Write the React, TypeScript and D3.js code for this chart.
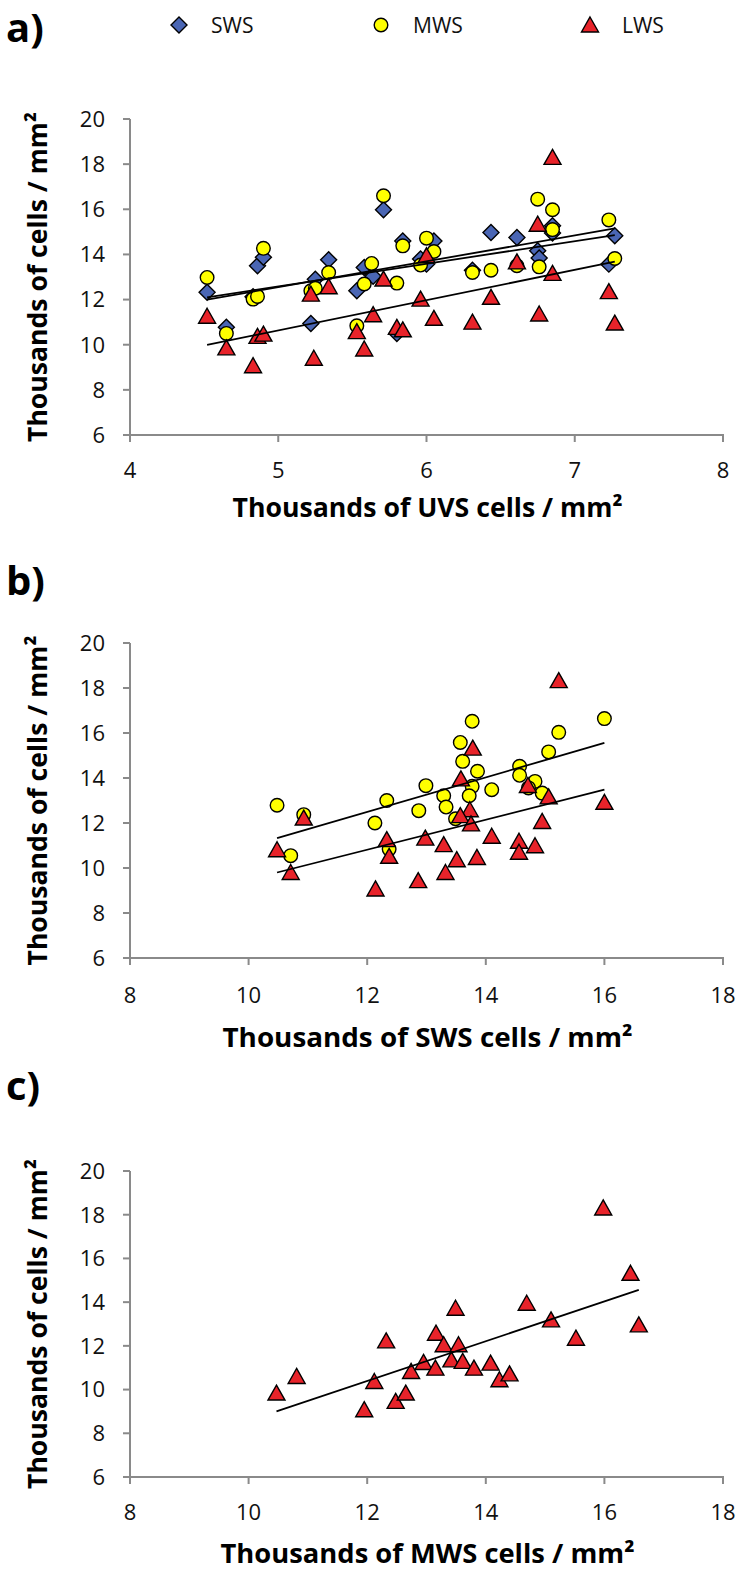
import React from "react";
import * as d3 from "d3";

// ---------- data (thousands of cells / mm²) ----------
// Panel a: x = UVS density
const aSWS: [number, number][] = [
  [4.52, 12.32], [4.65, 10.77], [4.83, 12.13], [4.86, 13.5], [4.9, 13.87], [5.22, 10.94],
  [5.25, 12.9], [5.34, 13.76], [5.53, 12.39], [5.58, 13.42], [5.64, 13.03], [5.71, 15.98],
  [5.8, 10.5], [5.84, 14.6], [5.96, 13.8], [6.0, 13.57], [6.05, 14.6], [6.31, 13.3],
  [6.435, 14.97], [6.61, 14.75], [6.75, 14.16], [6.76, 13.84], [6.85, 15.27], [6.85, 14.95],
  [7.23, 13.57], [7.27, 14.83],
];
const aMWS: [number, number][] = [
  [4.52, 12.98], [4.65, 10.5], [4.83, 12.02], [4.86, 12.14], [4.9, 14.27], [5.22, 12.39],
  [5.25, 12.5], [5.34, 13.2], [5.53, 10.84], [5.58, 12.69], [5.63, 13.6], [5.71, 16.6],
  [5.8, 12.73], [5.84, 14.38], [5.96, 13.53], [6.0, 14.72], [6.05, 14.13], [6.31, 13.2],
  [6.435, 13.3], [6.61, 13.5], [6.75, 16.45], [6.76, 13.45], [6.85, 15.98], [6.85, 15.1],
  [7.23, 15.53], [7.27, 13.82],
];
const aLWS: [number, number][] = [
  [4.52, 11.26], [4.65, 9.86], [4.83, 9.07], [4.86, 10.37], [4.9, 10.47], [5.22, 12.24],
  [5.24, 9.4], [5.34, 12.57], [5.53, 10.58], [5.58, 9.81], [5.64, 11.33], [5.71, 12.91],
  [5.8, 10.77], [5.84, 10.66], [5.96, 12.02], [6.0, 13.94], [6.05, 11.17], [6.31, 11.0],
  [6.435, 12.1], [6.61, 13.67], [6.75, 15.34], [6.76, 11.36], [6.85, 18.3], [6.85, 13.16],
  [7.23, 12.35], [7.27, 10.96],
];
// trend lines: y at [min x, max x]
const aTrendSWS = [12.1, 14.86];
const aTrendMWS = [12.0, 15.15];
const aTrendLWS = [9.99, 13.68];

// Panel b: x = SWS density
const bMWS: [number, number][] = [
  [10.48, 12.79], [10.93, 12.37], [10.71, 10.55], [12.33, 13.0], [12.13, 12.0], [12.99, 13.66],
  [12.87, 12.55], [12.37, 10.84], [13.29, 13.21], [13.33, 12.71], [13.49, 12.19], [13.77, 16.52],
  [13.57, 15.58], [13.61, 14.74], [13.86, 14.3], [13.77, 13.63], [13.72, 13.21], [14.1, 13.48],
  [14.57, 14.52], [14.57, 14.12], [14.83, 13.85], [14.72, 13.56], [14.95, 13.33], [15.06, 15.16],
  [15.23, 16.03], [16.0, 16.64],
];
const bLWS: [number, number][] = [
  [10.48, 10.81], [10.93, 12.22], [10.71, 9.8], [12.33, 11.26], [12.37, 10.52], [12.98, 11.33],
  [12.14, 9.07], [12.86, 9.44], [13.32, 9.8], [15.23, 18.33], [13.78, 15.33], [13.58, 13.96],
  [14.71, 13.67], [15.06, 13.16], [16.0, 12.92], [13.73, 12.59], [13.57, 12.33], [13.75, 11.96],
  [14.95, 12.07], [14.1, 11.41], [14.56, 11.19], [14.83, 10.99], [14.56, 10.7], [13.29, 11.04],
  [13.51, 10.37], [13.85, 10.47],
];
const bTrendMWS = [11.33, 15.56];
const bTrendLWS = [9.8, 13.48];

// Panel c: x = MWS density
const cLWS: [number, number][] = [
  [10.47, 9.84], [10.81, 10.6], [12.32, 12.23], [11.95, 9.08], [12.12, 10.37], [12.48, 9.46],
  [12.65, 9.84], [12.74, 10.83], [12.95, 11.24], [13.16, 12.58], [13.15, 10.98], [13.29, 12.05],
  [13.54, 12.05], [13.42, 11.36], [13.61, 11.29], [13.49, 13.72], [13.8, 10.98], [14.08, 11.21],
  [14.23, 10.45], [14.4, 10.72], [14.69, 13.95], [15.1, 13.19], [15.52, 12.35], [15.98, 18.31],
  [16.44, 15.32], [16.58, 12.96],
];
const cTrendLWS = [9.0, 14.56];

const yTicks = [6, 8, 10, 12, 14, 16, 18, 20];
const xTicksA = [4, 5, 6, 7, 8];
const xTicksBC = [8, 10, 12, 14, 16, 18];
const legendNames = ["SWS", "MWS", "LWS"];

// ---------- styling ----------
const COL = { SWS: "#4a66b4", MWS: "#ffff00", LWS: "#e8232a" };
const FONT = "'Open Sans', 'Liberation Sans', sans-serif";
const AXIS = "#8a8a8a";
const X0 = 130;
const X1 = 723;

type Shape = "diamond" | "circle" | "triangle";

function Marker({ shape, x, y }: { shape: Shape; x: number; y: number }) {
  if (shape === "circle")
    return <circle cx={x} cy={y} r={6.8} fill={COL.MWS} stroke="#000" strokeWidth={1.4} />;
  if (shape === "diamond")
    return (
      <path
        d={`M${x},${y - 8}L${x + 8},${y}L${x},${y + 8}L${x - 8},${y}Z`}
        fill={COL.SWS}
        stroke="#000"
        strokeWidth={1.4}
      />
    );
  return (
    <path
      d={`M${x},${y - 8}L${x + 8.5},${y + 7}L${x - 8.5},${y + 7}Z`}
      fill={COL.LWS}
      stroke="#000"
      strokeWidth={1.4}
      strokeLinejoin="miter"
    />
  );
}

type Series = { data: [number, number][]; trend: number[]; shape: Shape };

function Panel({
  label, labelY, top, bottom, xDomain, xTicks, xTitle, xTitleLen, tickBase, titleBase, series,
}: {
  label: string; labelY: number; top: number; bottom: number; xDomain: [number, number];
  xTicks: number[]; xTitle: string; xTitleLen: number; tickBase: number; titleBase: number;
  series: Series[];
}) {
  const x = d3.scaleLinear().domain(xDomain).range([X0, X1]);
  const y = d3.scaleLinear().domain([6, 20]).range([bottom, top]);
  const midY = (top + bottom) / 2;
  return (
    <g>
      <text x={6} y={labelY} fontFamily={FONT} fontWeight={700} fontSize={40} fill="#000">
        {label}
      </text>
      {/* y axis */}
      <line x1={X0} x2={X0} y1={top} y2={bottom} stroke={AXIS} strokeWidth={2} />
      {yTicks.map((t) => (
        <g key={"y" + t}>
          <line x1={X0 - 7} x2={X0} y1={y(t)} y2={y(t)} stroke={AXIS} strokeWidth={2} />
          <text x={105} y={y(t)} dy="0.36em" textAnchor="end" fontFamily={FONT} fontSize={22} fill="#111">
            {t}
          </text>
        </g>
      ))}
      {/* x axis */}
      <line x1={X0 - 7} x2={X1 + 1} y1={bottom} y2={bottom} stroke={AXIS} strokeWidth={2} />
      {xTicks.map((t) => (
        <g key={"x" + t}>
          <line x1={x(t)} x2={x(t)} y1={bottom} y2={bottom + 7} stroke={AXIS} strokeWidth={2} />
          <text x={x(t)} y={tickBase} textAnchor="middle" fontFamily={FONT} fontSize={22} fill="#111">
            {t}
          </text>
        </g>
      ))}
      <text
        x={(X0 + X1) / 2 + 1}
        y={titleBase}
        textAnchor="middle"
        fontFamily={FONT}
        fontWeight={700}
        fontSize={27}
        textLength={xTitleLen}
        lengthAdjust="spacingAndGlyphs"
        fill="#000"
      >
        {xTitle}
      </text>
      <text
        transform={`translate(47,${midY}) rotate(-90)`}
        textAnchor="middle"
        fontFamily={FONT}
        fontWeight={700}
        fontSize={27}
        textLength={330}
        lengthAdjust="spacingAndGlyphs"
        fill="#000"
      >
        Thousands of cells / mm²
      </text>
      {/* points */}
      {series.map((s, i) => (
        <g key={"s" + i}>
          {s.data.map((p, j) => (
            <Marker key={j} shape={s.shape} x={x(p[0])} y={y(p[1])} />
          ))}
        </g>
      ))}
      {/* trend lines */}
      {series.map((s, i) => {
        const ext = d3.extent(s.data, (d) => d[0]) as [number, number];
        return (
          <line
            key={"t" + i}
            x1={x(ext[0])}
            x2={x(ext[1])}
            y1={y(s.trend[0])}
            y2={y(s.trend[1])}
            stroke="#000"
            strokeWidth={1.8}
          />
        );
      })}
    </g>
  );
}

export default function App() {
  const legendX = [179, 381, 590];
  const shapes: Shape[] = ["diamond", "circle", "triangle"];
  return (
    <svg
      width={743}
      height={1578}
      viewBox="0 0 743 1578"
      style={{ position: "absolute", left: 0, top: 0, background: "#fff" }}
    >
      <rect width={743} height={1578} fill="#fff" />
      {/* legend */}
      {legendNames.map((n, i) => (
        <g key={n}>
          <Marker shape={shapes[i]} x={legendX[i]} y={25} />
          <text x={legendX[i] + 32} y={25} dy="0.36em" fontFamily={FONT} fontSize={21} fill="#111">
            {n}
          </text>
        </g>
      ))}
      <Panel
        label="a)"
        labelY={42}
        top={119}
        bottom={435}
        xDomain={[4, 8]}
        xTicks={xTicksA}
        xTitle="Thousands of UVS cells / mm²"
        xTitleLen={390}
        tickBase={478}
        titleBase={517}
        series={[
          { data: aSWS, trend: aTrendSWS, shape: "diamond" },
          { data: aMWS, trend: aTrendMWS, shape: "circle" },
          { data: aLWS, trend: aTrendLWS, shape: "triangle" },
        ]}
      />
      <Panel
        label="b)"
        labelY={595}
        top={643}
        bottom={958}
        xDomain={[8, 18]}
        xTicks={xTicksBC}
        xTitle="Thousands of SWS cells / mm²"
        xTitleLen={410}
        tickBase={1003}
        titleBase={1047}
        series={[
          { data: bMWS, trend: bTrendMWS, shape: "circle" },
          { data: bLWS, trend: bTrendLWS, shape: "triangle" },
        ]}
      />
      <Panel
        label="c)"
        labelY={1100}
        top={1171}
        bottom={1477}
        xDomain={[8, 18]}
        xTicks={xTicksBC}
        xTitle="Thousands of MWS cells / mm²"
        xTitleLen={414}
        tickBase={1520}
        titleBase={1563}
        series={[{ data: cLWS, trend: cTrendLWS, shape: "triangle" }]}
      />
    </svg>
  );
}
